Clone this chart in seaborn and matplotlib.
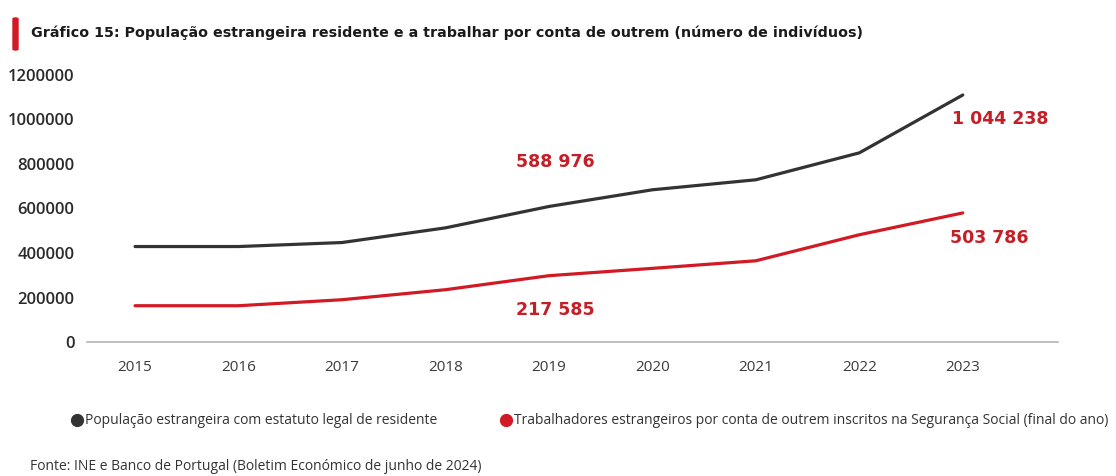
import pandas as pd
import matplotlib.pyplot as plt
import seaborn as sns
from matplotlib.lines import Line2D
from matplotlib.patches import FancyBboxPatch

# Data
years = [2015, 2016, 2017, 2018, 2019, 2020, 2021, 2022, 2023]
residentes = [429000, 429000, 447000, 513000, 609000, 684000, 729000, 850000, 1110000]
trabalhadores = [163000, 163000, 190000, 235000, 298000, 331000, 365000, 482000, 580000]

serie_res = "População estrangeira com estatuto legal de residente"
serie_trab = "Trabalhadores estrangeiros por conta de outrem inscritos na Segurança Social (final do ano)"

# value labels as printed on the chart
labels_res = [("588 976", 2019.06, 810000), ("1 044 238", 2023.36, 1000000)]
labels_trab = [("217 585", 2019.06, 145000), ("503 786", 2023.26, 466000)]

title = "Gráfico 15: População estrangeira residente e a trabalhar por conta de outrem (número de indivíduos)"
source = "Fonte: INE e Banco de Portugal (Boletim Económico de junho de 2024)"

dark = "#333333"
red = "#d11a24"
label_red = "#c41e26"

df = pd.DataFrame({
    "Ano": years * 2,
    "Valor": residentes + trabalhadores,
    "Serie": [serie_res] * len(years) + [serie_trab] * len(years),
})

sns.set_theme(style="white")
plt.rcParams["font.family"] = ["Open Sans", "DejaVu Sans"]

fig = plt.figure(figsize=(11.16, 4.76), dpi=100)
ax = fig.add_axes([0.078, 0.2815, 0.87, 0.561])

sns.lineplot(data=df, x="Ano", y="Valor", hue="Serie",
             palette={serie_res: dark, serie_trab: red},
             linewidth=2.3, legend=False, ax=ax)

for txt, x, y in labels_res + labels_trab:
    ax.text(x, y, txt, color=label_red, fontsize=12.5, fontweight="bold",
            family="DejaVu Sans", ha="center", va="center")

ax.set_xlim(2014.536, 2023.92)
ax.set_ylim(0, 1200000)
ax.set_xticks(years)
ax.set_yticks(range(0, 1200001, 200000))
ax.set_yticklabels([str(v) for v in range(0, 1200001, 200000)])
ax.set_xlabel("")
ax.set_ylabel("")
ax.tick_params(axis="x", length=0, pad=13, labelsize=11, labelcolor="#3a3a3a")
ax.tick_params(axis="y", length=0, pad=9, labelsize=12, labelcolor="#2a2a2a")
for lab in ax.get_yticklabels():
    lab.set_fontweight("semibold")

for side in ["top", "right", "left"]:
    ax.spines[side].set_visible(False)
ax.spines["bottom"].set_color("#b5b5b5")
ax.spines["bottom"].set_linewidth(1.2)

# title with red bar
fig.patches.append(FancyBboxPatch((13 / 1116, 1 - 50 / 476), 5 / 1116, 32 / 476,
                                  boxstyle="round,pad=0,rounding_size=0.002",
                                  transform=fig.transFigure, color=red))
fig.text(31 / 1116, 1 - 33 / 476, title, fontsize=10.3, fontweight="bold",
         family="DejaVu Sans", color="#1a1a1a", va="center", ha="left")

handles = [
    Line2D([], [], marker="o", linestyle="", color=dark, markersize=8.5),
    Line2D([], [], marker="o", linestyle="", color=red, markersize=8.5),
]
fig.legend(handles, [serie_res, serie_trab], loc="center left",
           bbox_to_anchor=(63 / 1116, 1 - 421 / 476), ncol=2, frameon=False,
           fontsize=10, handletextpad=0.1, columnspacing=4.4, borderpad=0,
           handlelength=1.0, labelcolor="#333333")

fig.text(30 / 1116, 1 - 466 / 476, source, fontsize=10, color="#333333",
         va="center", ha="left")

fig.savefig("out.png", dpi=100)
